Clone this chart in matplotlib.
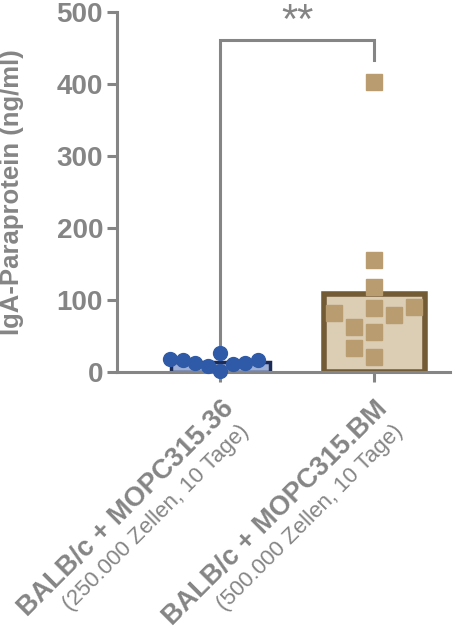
import numpy as np
import matplotlib
matplotlib.use("Agg")
import matplotlib.pyplot as plt

plt.rcParams["font.family"] = ["Liberation Sans", "DejaVu Sans"]

# IgA-Paraprotein im Serum (ng/ml), je Maus
groups = ["BALB/c + MOPC315.36", "BALB/c + MOPC315.BM"]
subtitles = ["(250.000 Zellen, 10 Tage)", "(500.000 Zellen, 10 Tage)"]
vals_36 = [13, 18, 16, 26, 1, 16, 11, 9, 13]
vals_bm = [89, 63, 90, 56, 21, 79, 33, 82, 403, 155, 118]
sig_label = "**"

grey = "#858585"
W, H = 476, 636


def swarm(values, dia, ppx, ppy):
    # einfache Beeswarm-Anordnung in Pixeln, Rueckgabe als x-Versatz in Datenkoordinaten
    values = np.asarray(values, float)
    placed = []
    out = np.zeros(len(values))
    cands = [0.0] + [s * j * dia for j in range(1, 12) for s in (-1, 1)]
    for i in np.argsort(values):
        y = values[i] * ppy
        for c in cands:
            if all((c - px) ** 2 + (y - py) ** 2 >= dia ** 2 for px, py in placed):
                break
        placed.append((c, y))
        out[i] = c / ppx
    return out


fig = plt.figure(figsize=(W / 100, H / 100), dpi=100)
ax = fig.add_axes([117 / W, 1 - 372 / H, (450 - 117) / W, 360 / H])
xlim = (-0.67, 1.49)
ylim = (0, 500)
ax.set_xlim(*xlim)
ax.set_ylim(*ylim)
ppx = 333 / (xlim[1] - xlim[0])
ppy = 360 / (ylim[1] - ylim[0])

# Mittelwert-Balken
ax.bar(0, np.mean(vals_36), width=0.64, color="#9fb0d6", edgecolor="#1c2b55",
       linewidth=2.5, zorder=2)
ax.bar(1, np.mean(vals_bm), width=0.66, color="#dccdb5", edgecolor="#735b36",
       linewidth=4, zorder=2)

# Einzelwerte
off0 = swarm(vals_36, 12.5, ppx, ppy)
ax.plot(0 + off0, vals_36, "o", ms=10, color="#2f5aa8", mec="#2f5aa8", zorder=3,
        clip_on=False)
off1 = swarm(vals_bm, 20, ppx, ppy)
ax.plot(1 + off1, vals_bm, "s", ms=11, color="#b99d70", mec="#b99d70", zorder=3,
        clip_on=False)

# Signifikanz-Klammer
ax.plot([0, 0, 1, 1], [37, 461, 461, 433], color=grey, lw=2.2, clip_on=False,
        solid_joinstyle="miter")
ax.text(0.5, 486, sig_label, ha="center", va="center", fontsize=30, color=grey,
        clip_on=False)

# Achsen
for s in ["top", "right"]:
    ax.spines[s].set_visible(False)
for s in ["left", "bottom"]:
    ax.spines[s].set_color(grey)
    ax.spines[s].set_linewidth(2.2)
ax.set_yticks(range(0, 501, 100))
ax.tick_params(axis="both", colors=grey, width=2.2, length=7, labelsize=20, pad=3)
for t in ax.get_yticklabels():
    t.set_fontweight("bold")
ax.set_xticks([0, 1])
ax.set_xticklabels(["", ""])
ax.set_ylabel("IgA-Paraprotein (ng/ml)", fontsize=18.5, fontweight="bold", color=grey)
ax.yaxis.set_label_coords(-0.28, 0.5)

for i in range(2):
    ax.annotate(groups[i], xy=(i, 0), xytext=(0, -17), textcoords="offset points",
                rotation=45, rotation_mode="anchor", ha="right", va="top",
                fontsize=19.5, fontweight="bold", color=grey)
    ax.annotate(subtitles[i], xy=(i, 0), xytext=(13, -35), textcoords="offset points",
                rotation=45, rotation_mode="anchor", ha="right", va="top",
                fontsize=16, color=grey)

fig.savefig("out.png", dpi=100)
